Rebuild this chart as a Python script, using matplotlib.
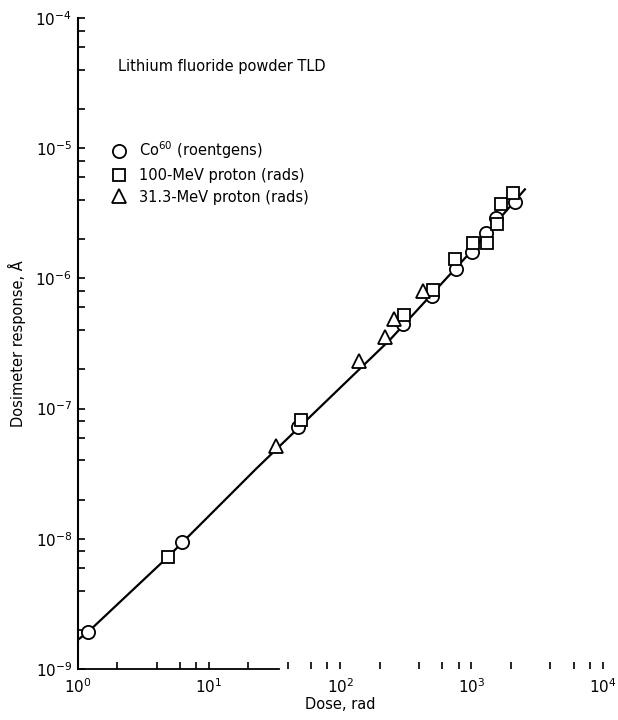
import numpy as np
import matplotlib
matplotlib.use('Agg')
import matplotlib.pyplot as plt
from matplotlib.ticker import FixedLocator, NullFormatter

# Co60 (roentgens)
co_dose = [1.21, 6.2, 48, 303, 502, 762, 1014, 1290, 1530, 2130]
co_resp = [1.94e-9, 9.4e-9, 7.2e-8, 4.47e-7, 7.36e-7, 1.18e-6, 1.60e-6, 2.22e-6, 2.9e-6, 3.88e-6]

# 100-MeV proton (rads)
p100_dose = [4.9, 50, 306, 512, 750, 1030, 1320, 1570, 1670, 2080]
p100_resp = [7.2e-9, 8.2e-8, 5.2e-7, 8.2e-7, 1.40e-6, 1.88e-6, 1.86e-6, 2.62e-6, 3.73e-6, 4.55e-6]

# 31.3-MeV proton (rads)
p31_dose = [32.4, 140, 219, 257, 430]
p31_resp = [5.2e-8, 2.33e-7, 3.56e-7, 4.85e-7, 8.0e-7]

# faired curve
fit_dose = [1.0, 1.21, 4.9, 23.1, 239, 1000, 2555]
fit_resp = [1.67e-9, 1.94e-9, 7.3e-9, 3.48e-8, 3.37e-7, 1.62e-6, 4.83e-6]

x_major = [1e0, 1e1, 1e2, 1e3, 1e4]
y_major = [1e-9, 1e-8, 1e-7, 1e-6, 1e-5, 1e-4]
x_minor = [m * d for d in [1e0, 1e1, 1e2, 1e3] for m in (2, 4, 6, 8)]
y_minor = [m * d for d in [1e-9, 1e-8, 1e-7, 1e-6, 1e-5] for m in (2, 4, 6, 8)]

fig = plt.figure(figsize=(6.18, 7.2), dpi=100)
ax = fig.add_axes([0.1256, 0.0708, 0.8496, 0.9042])

ax.plot(fit_dose, fit_resp, 'k-', lw=1.6, zorder=2)
ax.plot(co_dose, co_resp, 'o', ms=9.5, mfc='white', mec='black', mew=1.3, ls='none', zorder=3)
ax.plot(p100_dose, p100_resp, 's', ms=8.5, mfc='white', mec='black', mew=1.3, ls='none', zorder=3)
ax.plot(p31_dose, p31_resp, '^', ms=10, mfc='white', mec='black', mew=1.3, ls='none', zorder=3)

ax.set_xscale('log')
ax.set_yscale('log')
ax.set_xlim(1, 1e4)
ax.set_ylim(1e-9, 1e-4)

ax.spines['top'].set_visible(False)
ax.spines['right'].set_visible(False)
ax.spines['left'].set_linewidth(1.5)
ax.spines['bottom'].set_linewidth(1.3)
ax.spines['bottom'].set_bounds(1, 34)

ax.xaxis.set_major_locator(FixedLocator(x_major))
ax.yaxis.set_major_locator(FixedLocator(y_major))
ax.xaxis.set_minor_locator(FixedLocator(x_minor))
ax.yaxis.set_minor_locator(FixedLocator(y_minor))
ax.xaxis.set_minor_formatter(NullFormatter())
ax.yaxis.set_minor_formatter(NullFormatter())

ax.tick_params(which='both', direction='in', length=5, width=1.2, labelsize=11)
ax.tick_params(axis='x', which='major', pad=6)
ax.tick_params(axis='y', which='major', pad=4)

ax.set_xlabel('Dose, rad', fontsize=10.5, labelpad=1)
ax.set_ylabel('Dosimeter response, Å', fontsize=10.5, labelpad=7)

ax.text(0.077, 0.925, 'Lithium fluoride powder TLD', transform=ax.transAxes,
        fontsize=10.5, va='center')

handles = [
    plt.Line2D([], [], marker='o', ms=9.5, mfc='white', mec='black', mew=1.3, ls='none'),
    plt.Line2D([], [], marker='s', ms=8.5, mfc='white', mec='black', mew=1.3, ls='none'),
    plt.Line2D([], [], marker='^', ms=10, mfc='white', mec='black', mew=1.3, ls='none'),
]
labels = ['Co$^{60}$ (roentgens)', '100-MeV proton (rads)', '31.3-MeV proton (rads)']
ax.legend(handles, labels, loc='upper left', bbox_to_anchor=(0.04, 0.822), frameon=False,
          fontsize=10.5, handletextpad=0.4, labelspacing=0.45, borderaxespad=0)

fig.savefig('out.png', dpi=100)
